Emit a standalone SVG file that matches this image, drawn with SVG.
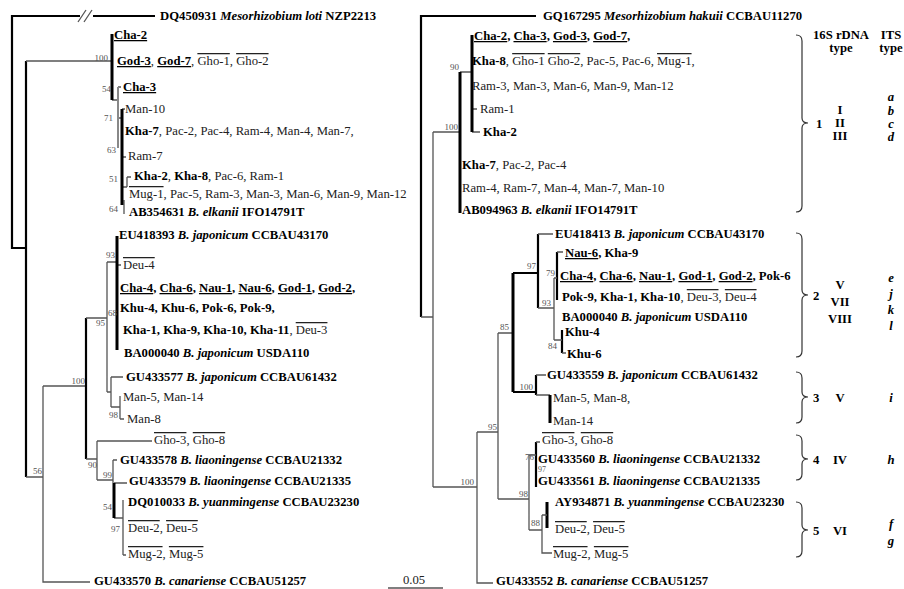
<svg xmlns="http://www.w3.org/2000/svg" width="904" height="589" viewBox="0 0 904 589">
<style>
text{font-family:"Liberation Serif","Times New Roman",serif;font-size:12.7px;fill:#222}
.b{font-weight:bold;fill:#000}
.i{font-style:italic}
.u{text-decoration:underline}
.o{text-decoration:overline}
.oo{text-decoration:overline double}
.bs{font-size:9px;fill:#555}
.sm{font-size:8px;fill:#555}
.e{text-anchor:end}
.m{text-anchor:middle}
.l{stroke:#555;stroke-width:1.3;fill:none}
.m2{stroke:#000;stroke-width:2.2;fill:none}
.k{stroke:#000;stroke-width:3;fill:none}
.g{stroke:#888;stroke-width:2;fill:none}
.br{stroke:#333;stroke-width:1.2;fill:none}
</style>
<rect width="904" height="589" fill="#fff"/>
<g id="connectors">
<path class="m2" d="M12,16 H80 M93,16 H155 M12,15 V248 H26 M26,61 V477"/>
<path class="l" d="M78,22 L86,10 M84,22 L92,10"/>
<path class="l" d="M26,61 H112 M112,100 H118 M118,87 H121 M118,118 H122 M122,109 H125 M122,157 H126 M127,177 V187 M127,177 H131 M122,187 H127 M124,200 V214"/>
<path class="k" d="M112,34 V100 M122,109 V205"/>
<path class="g" d="M118,87 V148"/>
<path class="l" d="M26,477 H43 M43,386 H86 M43,386 V582 H90"/>
<path class="m2" d="M86,318 V459"/>
<path class="l" d="M86,318 H107 M107,262 V392 M107,262 H116 M117,265 H121 M107,392 H111 M111,377 V407 M111,377 H123 M111,407 H120 M120,396 V419 M120,419 H124"/>
<path class="k" d="M117,236 V350"/>
<path class="l" d="M86,459 H97 M97,441 V480 M97,441 H152 M97,480 H113 M113,460 V483 M113,460 H117 M114,483 H127 M114,518 H123 M123,500 V555 M123,555 H126"/>
<path class="k" d="M114,483 V518"/>
<path class="l" d="M388,588 H443"/>
<path class="m2" d="M421,16 H536 M421,15 V317"/>
<path class="l" d="M421,317 H433 M433,132 V487 M433,132 H460 M460,72 H472 M472,109 H477 M472,132 H480"/>
<path class="k" d="M460,72 V213 M472,35 V132"/>
<path class="l" d="M433,487 H477 M477,432 V583 H493 M477,432 H498 M498,333 V499 M498,333 H513"/>
<path class="k" d="M513,273 V392"/>
<path class="m2" d="M513,273 H538 M538,234 V308 M513,392 H536 M536,375 V395 M557,252 V300 M562,330 V353 M536,442 V487"/>
<path class="l" d="M538,234 H553 M538,308 H554 M554,278 V340 M554,278 H557 M557,252 H563 M554,340 H562 M562,353 H566 M536,375 H546 M536,395 H550"/>
<path class="k" d="M550,395 V423 M547,502 V528"/>
<path class="l" d="M498,499 H529 M529,455 V530 M529,455 H536 M536,442 H540 M529,530 H542 M542,515 V553 H552 M542,515 H547"/>
<path class="br" d="M796,35 Q802,35 802,41 V118 Q802,123 808,123 Q802,123 802,128 V206 Q802,212 796,212"/>
<path class="br" d="M796,233 Q802,233 802,239 V290 Q802,295 808,295 Q802,295 802,300 V351 Q802,357 796,357"/>
<path class="br" d="M796,372 Q802,372 802,378 V392 Q802,397 808,397 Q802,397 802,402 V417 Q802,423 796,423"/>
<path class="br" d="M796,435 Q802,435 802,441 V454 Q802,459 808,459 Q802,459 802,464 V474 Q802,480 796,480"/>
<path class="br" d="M796,502 Q802,502 802,508 V525 Q802,530 808,530 Q802,530 802,535 V551 Q802,557 796,557"/>
</g>
<g id="left-tree-labels">
<text x="160" y="20"><tspan class="b">DQ450931 </tspan><tspan class="b i">Mesorhizobium loti</tspan><tspan class="b"> NZP2213</tspan></text>
<text x="114" y="39"><tspan class="b u">Cha-2</tspan></text>
<text x="117" y="65"><tspan class="b u">God-3</tspan>, <tspan class="b u">God-7</tspan>, <tspan class="o">Gho-1</tspan>, <tspan class="o">Gho-2</tspan></text>
<text x="123" y="91"><tspan class="b u">Cha-3</tspan></text>
<text x="125" y="113">Man-10</text>
<text x="125" y="135"><tspan class="b">Kha-7</tspan>, Pac-2, Pac-4, Ram-4, Man-4, Man-7,</text>
<text x="128" y="160">Ram-7</text>
<text x="134" y="180"><tspan class="b">Kha-2</tspan>, <tspan class="b">Kha-8</tspan>, Pac-6, Ram-1</text>
<text x="129" y="198"><tspan class="o">Mug-1</tspan>, Pac-5, Ram-3, Man-3, Man-6, Man-9, Man-12</text>
<text x="129" y="216"><tspan class="b">AB354631 </tspan><tspan class="b i">B. elkanii</tspan><tspan class="b"> IFO14791T</tspan></text>
<text x="119" y="239"><tspan class="b">EU418393 </tspan><tspan class="b i">B. japonicum</tspan><tspan class="b"> CCBAU43170</tspan></text>
<text x="123" y="269"><tspan class="oo">Deu-4</tspan></text>
<text x="120" y="292" class="b"><tspan class="u">Cha-4</tspan>, <tspan class="u">Cha-6</tspan>, <tspan class="u">Nau-1</tspan>, <tspan class="u">Nau-6</tspan>, <tspan class="u">God-1</tspan>, <tspan class="u">God-2</tspan>,</text>
<text x="120" y="312" class="b">Khu-4, Khu-6, Pok-6, Pok-9,</text>
<text x="123" y="334"><tspan class="b">Kha-1, Kha-9, Kha-10, Kha-11</tspan>, <tspan class="oo">Deu-3</tspan></text>
<text x="124" y="357"><tspan class="b">BA000040 </tspan><tspan class="b i">B. japonicum</tspan><tspan class="b"> USDA110</tspan></text>
<text x="126" y="381"><tspan class="b">GU433577 </tspan><tspan class="b i">B. japonicum</tspan><tspan class="b"> CCBAU61432</tspan></text>
<text x="123" y="401">Man-5, Man-14</text>
<text x="127" y="423">Man-8</text>
<text x="154" y="444"><tspan class="o">Gho-3</tspan>, <tspan class="o">Gho-8</tspan></text>
<text x="120" y="464"><tspan class="b">GU433578 </tspan><tspan class="b i">B. liaoningense</tspan><tspan class="b"> CCBAU21332</tspan></text>
<text x="129" y="485"><tspan class="b">GU433579 </tspan><tspan class="b i">B. liaoningense</tspan><tspan class="b"> CCBAU21335</tspan></text>
<text x="128" y="506"><tspan class="b">DQ010033 </tspan><tspan class="b i">B. yuanmingense</tspan><tspan class="b"> CCBAU23230</tspan></text>
<text x="128" y="532"><tspan class="o">Deu-2</tspan>, <tspan class="o">Deu-5</tspan></text>
<text x="128" y="558"><tspan class="o">Mug-2</tspan>, <tspan class="o">Mug-5</tspan></text>
<text x="94" y="585"><tspan class="b">GU433570 </tspan><tspan class="b i">B. canariense</tspan><tspan class="b"> CCBAU51257</tspan></text>
<text x="414" y="584" class="m">0.05</text>
</g>
<g id="left-bootstrap">
<text class="bs e" x="108" y="61">100</text>
<text class="bs e" x="111" y="92">54</text>
<text class="bs e" x="113" y="121">71</text>
<text class="bs e" x="116" y="153">63</text>
<text class="bs e" x="118" y="182">51</text>
<text class="bs e" x="118" y="212">64</text>
<text class="bs e" x="115" y="258">93</text>
<text class="bs e" x="117" y="316">68</text>
<text class="bs e" x="105" y="326">95</text>
<text class="bs e" x="85" y="384">100</text>
<text class="bs e" x="118" y="418">98</text>
<text class="bs e" x="97" y="468">90</text>
<text class="bs e" x="112" y="478">99</text>
<text class="bs e" x="112" y="510">54</text>
<text class="bs e" x="120" y="532">97</text>
<text class="bs e" x="42" y="474">56</text>
</g>
<g id="right-tree-labels">
<text x="543" y="20"><tspan class="b">GQ167295 </tspan><tspan class="b i">Mesorhizobium hakuii</tspan><tspan class="b"> CCBAU11270</tspan></text>
<text x="474" y="40" class="b"><tspan class="u">Cha-2</tspan>, <tspan class="u">Cha-3</tspan>, <tspan class="u">God-3</tspan>, <tspan class="u">God-7</tspan>,</text>
<text x="472" y="65"><tspan class="b">Kha-8</tspan>, <tspan class="o">Gho-1</tspan> <tspan class="o">Gho-2</tspan>, Pac-5, Pac-6, <tspan class="o">Mug-1</tspan>,</text>
<text x="472" y="90">Ram-3, Man-3, Man-6, Man-9, Man-12</text>
<text x="480" y="113">Ram-1</text>
<text x="483" y="136" class="b">Kha-2</text>
<text x="462" y="169"><tspan class="b">Kha-7</tspan>, Pac-2, Pac-4</text>
<text x="462" y="192">Ram-4, Ram-7, Man-4, Man-7, Man-10</text>
<text x="462" y="214"><tspan class="b">AB094963 </tspan><tspan class="b i">B. elkanii</tspan><tspan class="b"> IFO14791T</tspan></text>
<text x="555" y="238"><tspan class="b">EU418413 </tspan><tspan class="b i">B. japonicum</tspan><tspan class="b"> CCBAU43170</tspan></text>
<text x="565" y="257" class="b"><tspan class="u">Nau-6</tspan>, Kha-9</text>
<text x="560" y="280" class="b"><tspan class="u">Cha-4</tspan>, <tspan class="u">Cha-6</tspan>, <tspan class="u">Nau-1</tspan>, <tspan class="u">God-1</tspan>, <tspan class="u">God-2</tspan>, Pok-6</text>
<text x="562" y="301"><tspan class="b">Pok-9, Kha-1, Kha-10</tspan>, <tspan class="o">Deu-3</tspan>, <tspan class="o">Deu-4</tspan></text>
<text x="562" y="321"><tspan class="b">BA000040 </tspan><tspan class="b i">B. japonicum</tspan><tspan class="b"> USDA110</tspan></text>
<text x="565" y="336" class="b">Khu-4</text>
<text x="567" y="358" class="b">Khu-6</text>
<text x="547" y="379"><tspan class="b">GU433559 </tspan><tspan class="b i">B. japonicum</tspan><tspan class="b"> CCBAU61432</tspan></text>
<text x="553" y="402">Man-5, Man-8,</text>
<text x="553" y="425">Man-14</text>
<text x="542" y="444"><tspan class="o">Gho-3</tspan>, <tspan class="o">Gho-8</tspan></text>
<text x="538" y="463"><tspan class="b">GU433560 </tspan><tspan class="b i">B. liaoningense</tspan><tspan class="b"> CCBAU21332</tspan></text>
<text x="538" y="485"><tspan class="b">GU433561 </tspan><tspan class="b i">B. liaoningense</tspan><tspan class="b"> CCBAU21335</tspan></text>
<text x="555" y="506"><tspan class="b">AY934871 </tspan><tspan class="b i">B. yuanmingense</tspan><tspan class="b"> CCBAU23230</tspan></text>
<text x="555" y="533"><tspan class="o">Deu-2</tspan>, <tspan class="o">Deu-5</tspan></text>
<text x="553" y="558"><tspan class="o">Mug-2</tspan>, <tspan class="o">Mug-5</tspan></text>
<text x="496" y="585"><tspan class="b">GU433552 </tspan><tspan class="b i">B. canariense</tspan><tspan class="b"> CCBAU51257</tspan></text>
</g>
<g id="right-bootstrap">
<text class="bs e" x="458" y="130">100</text>
<text class="bs e" x="459" y="70">90</text>
<text class="bs e" x="536" y="269">97</text>
<text class="bs e" x="555" y="276">79</text>
<text class="bs e" x="551" y="306">93</text>
<text class="bs" x="500" y="330">85</text>
<text class="bs e" x="557" y="349">84</text>
<text class="bs e" x="533" y="390">100</text>
<text class="bs e" x="497" y="430">95</text>
<text class="bs e" x="474" y="485">100</text>
<text class="bs e" x="528" y="497">98</text>
<text class="bs e" x="534" y="460">76</text>
<text class="sm" x="538" y="472">97</text>
<text class="bs" x="531" y="526">88</text>
</g>
<g id="types">
<text x="841" y="39" class="b m">16S rDNA</text>
<text x="841" y="52" class="b m">type</text>
<text x="891" y="39" class="b m">ITS</text>
<text x="891" y="52" class="b m">type</text>
<text x="816" y="128" class="b">1</text>
<text x="840" y="114" class="b m">I</text>
<text x="840" y="127" class="b m">II</text>
<text x="840" y="140" class="b m">III</text>
<text x="891" y="101" class="b i m">a</text>
<text x="891" y="115" class="b i m">b</text>
<text x="891" y="128" class="b i m">c</text>
<text x="891" y="141" class="b i m">d</text>
<text x="813" y="300" class="b">2</text>
<text x="840" y="289" class="b m">V</text>
<text x="840" y="306" class="b m">VII</text>
<text x="840" y="323" class="b m">VIII</text>
<text x="891" y="282" class="b i m">e</text>
<text x="891" y="298" class="b i m">j</text>
<text x="891" y="314" class="b i m">k</text>
<text x="891" y="330" class="b i m">l</text>
<text x="813" y="402" class="b">3</text>
<text x="840" y="402" class="b m">V</text>
<text x="891" y="402" class="b i m">i</text>
<text x="813" y="464" class="b">4</text>
<text x="840" y="464" class="b m">IV</text>
<text x="891" y="464" class="b i m">h</text>
<text x="813" y="535" class="b">5</text>
<text x="840" y="535" class="b m">VI</text>
<text x="891" y="528" class="b i m">f</text>
<text x="891" y="545" class="b i m">g</text>
</g>
</svg>
